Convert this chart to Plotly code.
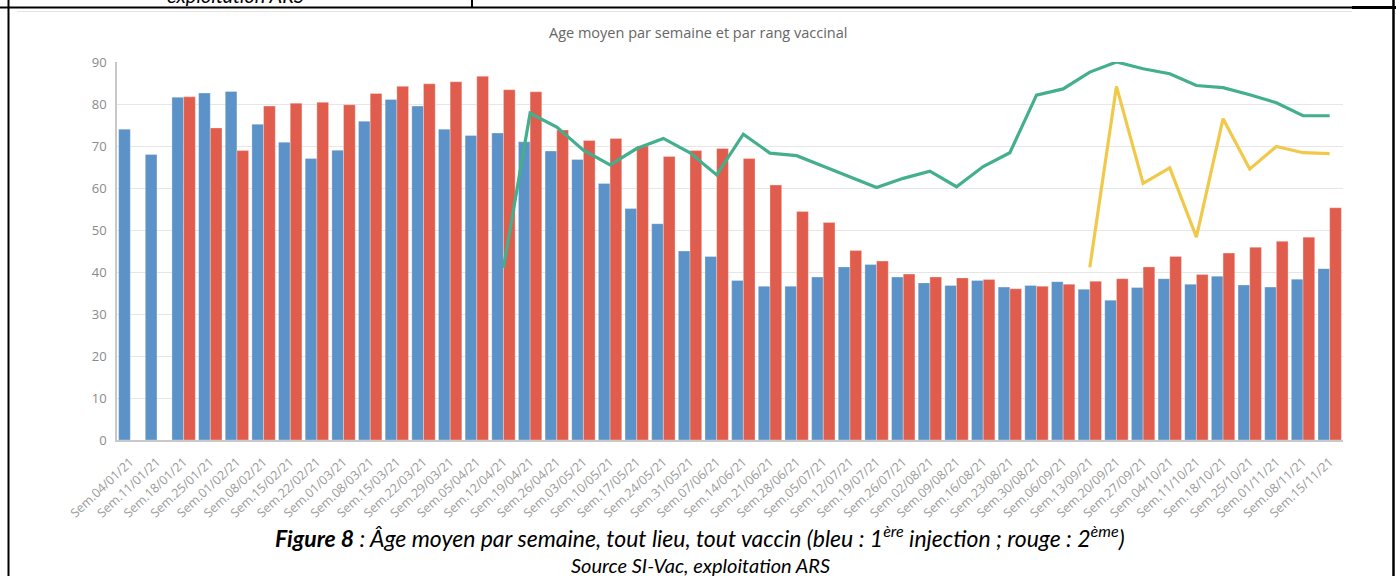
import plotly.graph_objects as go

weeks = ["04/01/21","11/01/21","18/01/21","25/01/21","01/02/21","08/02/21","15/02/21","22/02/21",
         "01/03/21","08/03/21","15/03/21","22/03/21","29/03/21","05/04/21","12/04/21","19/04/21",
         "26/04/21","03/05/21","10/05/21","17/05/21","24/05/21","31/05/21","07/06/21","14/06/21",
         "21/06/21","28/06/21","05/07/21","12/07/21","19/07/21","26/07/21","02/08/21","09/08/21",
         "16/08/21","23/08/21","30/08/21","06/09/21","13/09/21","20/09/21","27/09/21","04/10/21",
         "11/10/21","18/10/21","25/10/21","01/11/21","08/11/21","15/11/21"]
categories = ["Sem." + w for w in weeks]

dose1 = [74.0, 68.0, 81.6, 82.6, 83.0, 75.2, 70.9, 67.0, 69.0, 75.9, 81.1, 79.5, 74.0, 72.5, 73.1, 71.0,
         68.8, 66.8, 61.1, 55.1, 51.5, 45.0, 43.7, 38.0, 36.6, 36.6, 38.8, 41.2, 41.8, 38.8, 37.4, 36.8,
         38.0, 36.4, 36.8, 37.7, 35.9, 33.3, 36.3, 38.4, 37.1, 39.0, 36.9, 36.4, 38.3, 40.8]
dose2 = [None, None, 81.7, 74.3, 68.9, 79.5, 80.2, 80.4, 79.8, 82.5, 84.2, 84.8, 85.3, 86.6, 83.4, 82.9,
         73.8, 71.3, 71.8, 70.0, 67.5, 68.9, 69.4, 67.0, 60.7, 54.4, 51.8, 45.1, 42.6, 39.5, 38.8, 38.6,
         38.2, 36.0, 36.6, 37.1, 37.8, 38.4, 41.2, 43.7, 39.4, 44.5, 45.9, 47.3, 48.3, 55.3]
dose3 = [None]*14 + [41.0, 77.8, 74.5, 69.0, 65.5, 69.4, 71.8, 68.4, 63.1, 72.8, 68.3, 67.7, 65.2,
         62.6, 60.1, 62.3, 64.0, 60.3, 65.1, 68.4, 82.1, 83.6, 87.6, 90.0, 88.4, 87.2, 84.4, 83.9,
         82.2, 80.3, 77.2, 77.2]
dose4 = [None]*36 + [41.1, 84.2, 61.1, 64.8, 48.3, 76.5, 64.5, 69.9, 68.4, 68.2]

yticks = [0, 10, 20, 30, 40, 50, 60, 70, 80, 90]

fig = go.Figure()
fig.add_trace(go.Bar(x=categories, y=dose1, name="1ère injection", marker_color="#5B92C7",
                     marker_line=dict(color="rgba(255,255,255,0.5)", width=0.6)))
fig.add_trace(go.Bar(x=categories, y=dose2, name="2ème injection", marker_color="#E05C4C",
                     marker_line=dict(color="rgba(255,235,235,0.6)", width=0.6)))
fig.add_trace(go.Scatter(x=categories, y=dose3, mode="lines", name="3ème injection",
                         line=dict(color="#43AF8D", width=3.2), connectgaps=False))
fig.add_trace(go.Scatter(x=categories, y=dose4, mode="lines", name="Rappel",
                         line=dict(color="#F1C94A", width=3.2), connectgaps=False))

W, H = 1396, 576
L, R, T, B = 117, 53, 62, 136
pw, ph = W - L - R, H - T - B

def px(x):
    return (x - L) / pw

def py(y):
    return (H - B - y) / ph

shapes = []
def line(x0, y0, x1, y1, color="black", width=2):
    shapes.append(dict(type="line", xref="paper", yref="paper", x0=px(x0), y0=py(y0),
                       x1=px(x1), y1=py(y1), line=dict(color=color, width=width), layer="above"))

# document table borders
line(0, 7.5, 1396, 7.5, width=2)
line(1352, 7.5, 1396, 7.5, width=3)
line(8.5, 0, 8.5, 576, width=2)
line(1393.5, 0, 1393.5, 576, width=2.5)
line(472, 0, 472, 7.5, width=2)
# embedded chart image frame (faint)
line(17, 11.5, 1352, 11.5, color="#e4e4e4", width=1.2)

annotations = [
    dict(text="Age moyen par semaine et par rang vaccinal", xref="paper", yref="paper",
         x=px(698), y=py(32), showarrow=False, xanchor="center", yanchor="middle",
         font=dict(family="Open Sans", size=14.5, color="#666666")),
    dict(text="<b><i>Figure 8</i></b><i> : Âge moyen par semaine, tout lieu, tout vaccin (bleu : 1<sup>ère</sup> injection ; rouge : 2<sup>ème</sup>)</i>",
         xref="paper", yref="paper", x=px(700), y=py(536), showarrow=False,
         xanchor="center", yanchor="middle", font=dict(family="Lato", size=23, color="black")),
    dict(text="<i>Source SI-Vac, exploitation ARS</i>", xref="paper", yref="paper",
         x=px(700), y=py(565), showarrow=False, xanchor="center", yanchor="middle",
         font=dict(family="Lato", size=20, color="black")),
    dict(text="<i>exploitation ARS</i>", xref="paper", yref="paper",
         x=px(235), y=py(-5), showarrow=False, xanchor="center", yanchor="middle",
         font=dict(family="Lato", size=20, color="black")),
]

fig.update_layout(
    width=W, height=H,
    margin=dict(l=L, r=R, t=T, b=B, pad=0),
    paper_bgcolor="white", plot_bgcolor="white",
    barmode="group", bargap=0.123, bargroupgap=0,
    showlegend=False,
    shapes=shapes, annotations=annotations,
    xaxis=dict(type="category", range=[-0.5, 45.5], tickangle=-43,
               tickfont=dict(family="Open Sans", size=12.5, color="#9a9a9a"),
               showline=True, linecolor="#c8c8c8", linewidth=1.5, showgrid=False,
               ticks="", ticklen=0, ticklabelstandoff=8),
    yaxis=dict(range=[0, 90], tickvals=yticks, ticktext=[str(v) for v in yticks],
               tickfont=dict(family="Open Sans", size=13, color="#8a8a8a"),
               showline=True, linecolor="#c8c8c8", linewidth=1.5,
               showgrid=True, gridcolor="#e6e6e6", gridwidth=1.2, zeroline=False,
               ticks="", ticklabelstandoff=6),
)

fig.write_html("out.html", config={"displayModeBar": False},
               post_script="document.body.style.margin='0px';document.body.style.overflow='hidden';")
